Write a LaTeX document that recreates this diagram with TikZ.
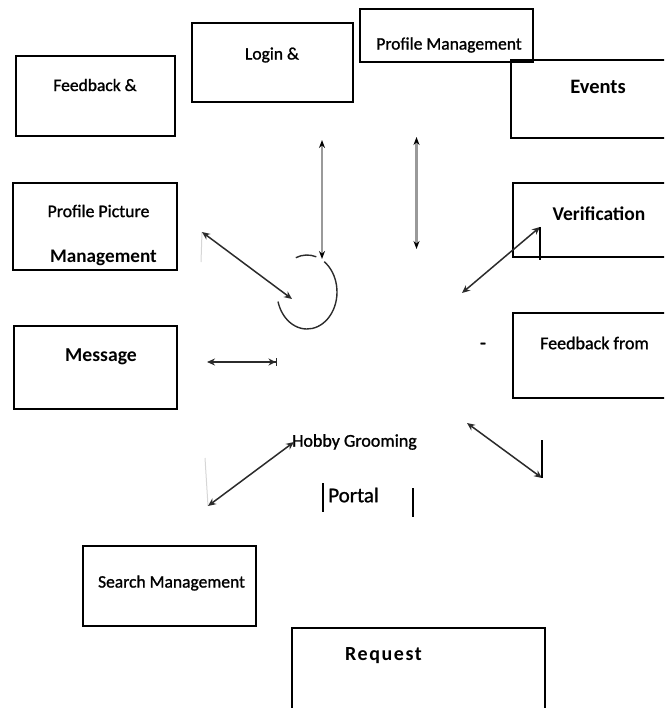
\documentclass[tikz,border=0pt]{standalone}
\usepackage{fontspec}
\setmainfont{Carlito}
\newfontfamily\medfont[FakeBold=1.2]{Carlito}
\newfontfamily\reqfont[LetterSpace=8]{Carlito}
\usetikzlibrary{arrows.meta}
\definecolor{ink}{HTML}{2B2B2B}
\definecolor{vline}{HTML}{9A9A9A}
\definecolor{faint}{HTML}{D6D6D6}
\tikzset{
  box/.style={draw=black, line width=1.6pt, rectangle, inner sep=0pt},
  lbl/.style={inner sep=0pt, text=black, font=\fontsize{#1}{#1}\selectfont\medfont},
  blbl/.style={inner sep=0pt, text=black, font=\fontsize{#1}{#1}\selectfont\bfseries},
  dbl/.style={{Stealth[length=8pt,width=7pt]}-{Stealth[length=8pt,width=7pt]}, draw=ink, line width=1.5pt},
  vdbl/.style={{Stealth[length=8pt,width=6pt,color=black]}-{Stealth[length=8pt,width=6pt,color=black]}, draw=vline, line width=2.2pt},
  bardbl/.style={{Stealth[length=8pt,width=7pt]}-{Stealth[length=7pt,width=7pt]Bar[width=8pt,line width=1.5pt]}, draw=ink, line width=1.5pt},
  stub/.style={draw=black, line width=1.4pt},
  ghost/.style={draw=faint, line width=1pt},
  ring/.style={draw=ink, line width=1.4pt}
}
\begin{document}
\begin{tikzpicture}[x=1pt, y=-1pt]
\useasboundingbox (0,0) rectangle (664,708);
\clip (0,0) rectangle (664,708);

% boxes
\node[box, minimum width=161pt, minimum height=79pt] (login) at (272.5,62.5) {};
\node[box, minimum width=173pt, minimum height=53pt] (profmgmt) at (446.5,35.5) {};
\node[box, minimum width=189pt, minimum height=78pt] (events) at (605.5,99) {};
\node[box, minimum width=159pt, minimum height=80pt] (feedback) at (95.5,96) {};
\node[box, minimum width=164pt, minimum height=87pt] (profpic) at (95,226.5) {};
\node[box, minimum width=187pt, minimum height=74pt] (verif) at (606.5,220) {};
\node[box, minimum width=163pt, minimum height=83pt] (message) at (95.5,367.5) {};
\node[box, minimum width=187pt, minimum height=85pt] (fbfrom) at (606.5,355.5) {};
\node[box, minimum width=173pt, minimum height=80pt] (search) at (169.5,586) {};
\node[box, minimum width=253pt, minimum height=102pt] (request) at (418.5,679) {};

% labels
\node[lbl=17.5] (tlogin) at (272,55) {Login \&};
\node[lbl=17.5] (tprofmgmt) at (449,45) {Profile Management};
\node[blbl=20.5] (tevents) at (598,87) {Events};
\node[lbl=17.5] (tfeedback) at (95,85) {Feedback \&};
\node[lbl=17.8] (tprofpic1) at (98.5,211) {Profile Picture};
\node[blbl=19.2] (tprofpic2) at (103.5,258) {Management};
\node[blbl=19.5] (tverif) at (599,214) {Verification};
\node[blbl=19.7] (tmessage) at (101,357) {Message};
\node[lbl=18] (tfbfrom) at (594.5,343) {Feedback from};
\node[lbl=17.5] (tsearch) at (171.5,583) {Search Management};
\node[inner sep=0pt, font=\fontsize{20}{20}\selectfont\reqfont\bfseries] (trequest) at (383.5,656) {Request};
\node[lbl=18] (thobby) at (354.5,442) {Hobby Grooming};
\node[lbl=21] (tportal) at (353.5,495) {Portal};
\node[lbl=20] (tdash) at (483,346) {-};

% arrow end points
\coordinate (a1t) at (322,140);
\coordinate (a1b) at (322,259);
\coordinate (a2t) at (416.5,137);
\coordinate (a2b) at (416.5,249);
\coordinate (ppa) at (202,232);
\coordinate (ppb) at (292,299);
\coordinate (ppg) at (201,262);
\coordinate (vea) at (462,293);
\coordinate (veb) at (540,227);
\coordinate (ves) at (540,260);
\coordinate (fba) at (467,423);
\coordinate (fbb) at (542,478);
\coordinate (fbs) at (542,440);
\coordinate (hoa) at (294,442);
\coordinate (hob) at (208,506);
\coordinate (hog) at (205,458);
\coordinate (msa) at (207,362);
\coordinate (msb) at (277,362);
\coordinate (p1a) at (323,483);
\coordinate (p1b) at (323,512);
\coordinate (p2a) at (413,488);
\coordinate (p2b) at (413,517);
\coordinate (arcA) at (295.8,257.7);
\coordinate (arcB) at (324.2,261.7);

% faint guide lines
\draw[ghost] (ppa) -- (ppg);
\draw[ghost] (hob) -- (hog);

% connectors
\draw[vdbl] (a1t) -- (a1b);
\draw[vdbl] (a2t) -- (a2b);
\draw[dbl] (ppa) -- (ppb);
\draw[dbl] (vea) -- (veb);
\draw[stub] (veb) -- (ves);
\draw[dbl] (fba) -- (fbb);
\draw[stub] (fbs) -- (fbb);
\draw[dbl] (hoa) -- (hob);
\draw[bardbl] (msa) -- (msb);
\draw[stub] (p1a) -- (p1b);
\draw[stub] (p2a) -- (p2b);

% broken ring
\draw[ring] (arcA) arc[start angle=-112, end angle=-72, x radius=30, y radius=37];
\draw[ring] (arcB) arc[start angle=-55, end angle=165, x radius=30, y radius=37];
\end{tikzpicture}
\end{document}
